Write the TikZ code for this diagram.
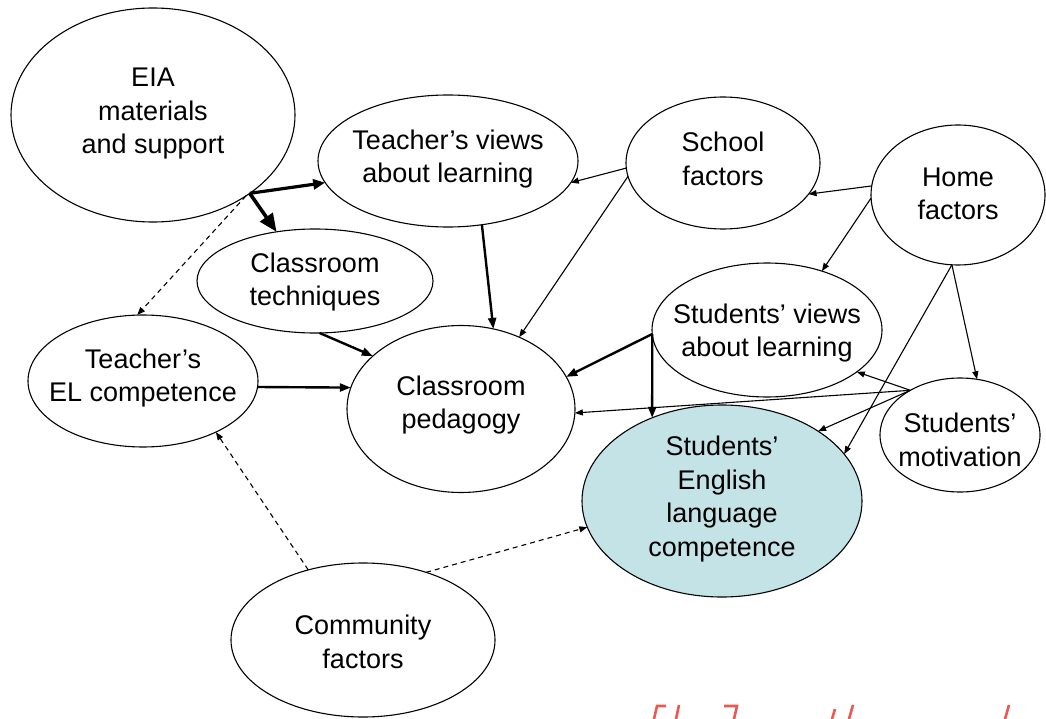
\documentclass[tikz,border=0pt]{standalone}
\usepackage{fontspec}
\setmainfont{Liberation Sans}
\usetikzlibrary{shapes.geometric,arrows.meta}
\definecolor{compfill}{RGB}{196,227,231}
\definecolor{markred}{RGB}{236,88,82}
\begin{document}
\begin{tikzpicture}[x=1pt,y=-1pt,
  ell/.style={draw, ellipse, line width=1.1pt, inner sep=0pt, outer sep=0pt},
  lbl/.style={align=center, font=\fontsize{27}{33.5}\selectfont, inner sep=0pt},
  thinarr/.style={line width=1.1pt, -{Triangle[length=8pt,width=6pt]}},
  midarr/.style={line width=2.4pt, -{Triangle[length=11pt,width=8pt]}},
  heavyarr/.style={line width=3.2pt, -{Triangle[length=12pt,width=10pt]}},
  bigarr/.style={line width=3.6pt, -{Triangle[length=18pt,width=15pt]}},
  dasharr/.style={line width=1.1pt, dash pattern=on 5pt off 4pt, -{Triangle[length=8pt,width=6pt]}}
]
\useasboundingbox (0,0) rectangle (1046,719);

% ellipses
\node[ell, minimum width=284pt, minimum height=214pt] (eia)  at (153,115) {};
\node[ell, minimum width=260pt, minimum height=132pt] (tv)   at (448,161) {};
\node[ell, minimum width=194pt, minimum height=132pt] (sch)  at (723,163) {};
\node[ell, minimum width=174pt, minimum height=140pt] (home) at (958,195) {};
\node[ell, minimum width=236pt, minimum height=104pt] (tech) at (315,281) {};
\node[ell, minimum width=230pt, minimum height=132pt] (el)   at (143,381) {};
\node[ell, minimum width=228pt, minimum height=167pt] (ped)  at (461,409) {};
\node[ell, minimum width=230pt, minimum height=134pt] (sv)   at (767,330) {};
\node[ell, minimum width=160pt, minimum height=114pt] (mot)  at (960,435) {};
\node[ell, fill=compfill, minimum width=280pt, minimum height=192pt] (eng) at (722,501) {};
\node[ell, minimum width=264pt, minimum height=154pt] (com)  at (363,640) {};

% labels
\node[lbl] (eiat)  at (153,114) {EIA\\materials\\and support};
\node[lbl] (tvt)   at (448,159) {Teacher’s views\\about learning};
\node[lbl] (scht)  at (723,159) {School\\factors};
\node[lbl] (homet) at (958,194) {Home\\factors};
\node[lbl] (techt) at (315,282) {Classroom\\techniques};
\node[lbl] (elt)   at (143,378) {Teacher’s\\EL competence};
\node[lbl] (pedt)  at (461,405) {Classroom\\pedagogy};
\node[lbl] (svt)   at (767,333) {Students’ views\\about learning};
\node[lbl] (mott)  at (960,440) {Students’\\motivation};
\node[lbl] (engt)  at (722,499) {Students’\\English\\language\\competence};
\node[lbl] (comt)  at (363,642) {Community\\factors};

% connectors
\draw[heavyarr] (eia.-39) -- (tv.190);
\draw[bigarr]   (eia.-39) -- (tech.128);
\draw[dasharr]  (eia.-41) -- (el.95);
\draw[midarr]   (tv.-62) -- (ped.68);
\draw[thinarr]  (sch.-177) -- (tv.-10);
\draw[thinarr]  (sch.-172) -- (ped.51);
\draw[thinarr]  (home.174) -- (sch.-20);
\draw[thinarr]  (home.-178) -- (sv.47);
\draw[thinarr]  (home.-95) -- (mot.73);
\draw[thinarr]  (home.-95) -- (eng.21);
\draw[midarr]   (tech.-85) -- (ped.149);
\draw[midarr]   (el.-3) -- (ped.169);
\draw[midarr]   (sv.182) -- (ped.17);
\draw[midarr]   (sv.182) -- (eng.130);
\draw[thinarr]  (mot.138) -- (ped.-2);
\draw[thinarr]  (mot.138) -- (sv.-25);
\draw[thinarr]  (mot.138) -- (eng.36);
\draw[dasharr]  (com.128) -- (el.-35);
\draw[dasharr]  (com.47) -- (eng.191);

% red strokes along the lower edge
\begin{scope}[draw=markred, line width=2.6pt]
  \draw (654,719) -- (657,706) -- (666,706);
  \draw (676,719) -- (679,705);
  \draw (724,706) -- (737,706) -- (734,719);
  \draw (832,719) -- (835,709);
  \draw (849,719) -- (853,705);
  \draw (1005,719) -- (1009,705);
\end{scope}
\end{tikzpicture}
\end{document}
